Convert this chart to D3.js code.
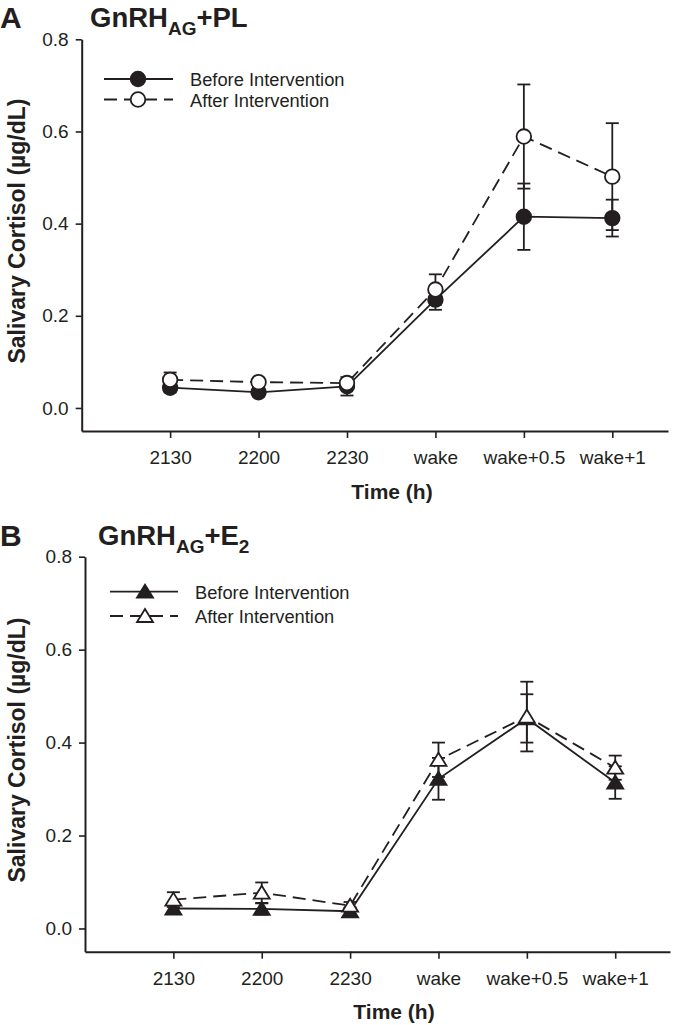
<!DOCTYPE html>
<html>
<head>
<meta charset="utf-8">
<script src="https://cdn.jsdelivr.net/npm/d3@7"></script>
<style>
  html, body { margin: 0; padding: 0; background: #fff; }
  svg { display: block; }
  text { font-family: "Liberation Sans", Arial, Helvetica, sans-serif; fill: #231f20; }
</style>
</head>
<body>
<svg id="chart" width="678" height="1025"></svg>
<script>
// ---- data ----
const categories = ["2130", "2200", "2230", "wake", "wake+0.5", "wake+1"];
const yTicks = [0.0, 0.2, 0.4, 0.6, 0.8];
const seriesLabels = ["Before Intervention", "After Intervention"];

// Panel A: GnRHAG + PL (circles)
const plBefore    = [0.044, 0.034, 0.047, 0.235, 0.415, 0.412];
const plBeforeErr = [0.010, 0.009, 0.020, 0.022, 0.072, 0.040];
const plAfter     = [0.061, 0.056, 0.054, 0.257, 0.589, 0.502];
const plAfterErr  = [0.016, 0.008, 0.008, 0.033, 0.113, 0.116];

// Panel B: GnRHAG + E2 (triangles)
const e2Before    = [0.043, 0.042, 0.037, 0.322, 0.452, 0.314];
const e2BeforeErr = [0.008, 0.012, 0.008, 0.045, 0.052, 0.035];
const e2After     = [0.062, 0.077, 0.049, 0.363, 0.456, 0.346];
const e2AfterErr  = [0.016, 0.022, 0.008, 0.037, 0.075, 0.026];

const INK = "#231f20";
const svg = d3.select("#chart");
svg.append("rect").attr("width", 678).attr("height", 1025).attr("fill", "#fff");

function markerPath(shape) {
  if (shape === "circle") return d3.symbol().type(d3.symbolCircle).size(Math.PI * 7.3 * 7.3)();
  // triangle: width 16, height 13, centred on bounding box
  return "M0,-7L8,6L-8,6Z";
}

function drawPanel(p) {
  const g = svg.append("g");
  const x = d3.scaleLinear().domain([-1, p.xEnd]).range([p.left, p.right]);
  const y = d3.scaleLinear().domain([-0.05, 0.8]).range([p.bottom, p.top]);

  // axes
  const yAxis = d3.axisLeft(y).tickValues(yTicks).tickFormat(d3.format(".1f"))
    .tickSize(6).tickSizeOuter(0).tickPadding(7);
  const xAxis = d3.axisBottom(x).tickValues(d3.range(categories.length))
    .tickFormat(i => categories[i]).tickSize(7).tickSizeOuter(0).tickPadding(13);

  const ya = g.append("g").attr("transform", `translate(${p.left},0)`).call(yAxis);
  const xa = g.append("g").attr("transform", `translate(0,${p.bottom})`).call(xAxis);
  [ya, xa].forEach(a => {
    a.select(".domain").attr("stroke", INK).attr("stroke-width", 2);
    a.selectAll(".tick line").attr("stroke", INK).attr("stroke-width", 1.6);
    a.selectAll(".tick text").attr("font-size", 19).attr("fill", INK)
      .style("font-family", '"Liberation Sans", Arial, sans-serif');
  });

  // axis titles
  g.append("text")
    .attr("transform", `translate(${p.yLabelX},${p.yLabelY}) rotate(-90)`)
    .attr("text-anchor", "middle").attr("font-size", 23).attr("font-weight", "bold")
    .text("Salivary Cortisol (µg/dL)");
  g.append("text").attr("x", p.xLabelX).attr("y", p.xLabelY)
    .attr("text-anchor", "middle").attr("font-size", 21).attr("font-weight", "bold")
    .text("Time (h)");

  // panel letter and title
  g.append("text").attr("x", 0).attr("y", p.titleY + 1).attr("font-size", 30)
    .attr("font-weight", "bold").text(p.letter);
  const t = g.append("text").attr("x", p.titleX).attr("y", p.titleY)
    .attr("font-size", 27.5).attr("font-weight", "bold");
  p.title.forEach(seg => {
    const ts = t.append("tspan").text(seg.t);
    if (seg.sub) ts.attr("font-size", 19).attr("dy", 8);
    else if (seg.back) ts.attr("dy", -8);
  });

  const series = [
    { v: p.before, e: p.beforeErr, fill: INK, dash: null },
    { v: p.after,  e: p.afterErr,  fill: "#fff", dash: "13,7" }
  ];

  const line = d3.line().x((d, i) => x(i)).y(d => y(d));

  // error bars
  series.forEach(s => {
    s.v.forEach((v, i) => {
      const cx = x(i);
      const eb = g.append("g").attr("stroke", INK).attr("stroke-width", 1.8);
      eb.append("line").attr("x1", cx).attr("x2", cx).attr("y1", y(v - s.e[i])).attr("y2", y(v + s.e[i]));
      [v - s.e[i], v + s.e[i]].forEach(yy => {
        eb.append("line").attr("x1", cx - 6.5).attr("x2", cx + 6.5).attr("y1", y(yy)).attr("y2", y(yy));
      });
    });
  });

  // lines
  series.forEach(s => {
    g.append("path").datum(s.v).attr("d", line).attr("fill", "none")
      .attr("stroke", INK).attr("stroke-width", 1.8)
      .attr("stroke-dasharray", s.dash);
  });

  // markers
  const mp = markerPath(p.shape);
  series.forEach(s => {
    g.selectAll(null).data(s.v).enter().append("path")
      .attr("d", mp).attr("transform", (d, i) => `translate(${x(i)},${y(d)})`)
      .attr("fill", s.fill).attr("stroke", INK).attr("stroke-width", 1.8);
  });

  // legend
  series.forEach((s, k) => {
    const ly = p.legY[k];
    g.append("line").attr("x1", p.legX1).attr("x2", p.legX2).attr("y1", ly).attr("y2", ly)
      .attr("stroke", INK).attr("stroke-width", 1.8).attr("stroke-dasharray", s.dash);
    g.append("path").attr("d", mp).attr("transform", `translate(${p.legSym},${ly})`)
      .attr("fill", s.fill).attr("stroke", INK).attr("stroke-width", 1.8);
    g.append("text").attr("x", p.legText).attr("y", ly + 7).attr("font-size", 18.3)
      .text(seriesLabels[k]);
  });
}

drawPanel({
  letter: "A",
  title: [{ t: "GnRH" }, { t: "AG", sub: true }, { t: "+PL", back: true }],
  titleX: 90, titleY: 27,
  left: 81.7, right: 668, xEnd: 5.63, top: 39.3, bottom: 431,
  yLabelX: 25, yLabelY: 231, xLabelX: 392, xLabelY: 499,
  shape: "circle",
  before: plBefore, beforeErr: plBeforeErr, after: plAfter, afterErr: plAfterErr,
  legY: [79, 99.5], legX1: 104, legX2: 173, legSym: 138, legText: 190
});

drawPanel({
  letter: "B",
  title: [{ t: "GnRH" }, { t: "AG", sub: true }, { t: "+E", back: true }, { t: "2", sub: true }],
  titleX: 98, titleY: 545,
  left: 85, right: 670, xEnd: 5.62, top: 556.7, bottom: 951.7,
  yLabelX: 25, yLabelY: 750, xLabelX: 394, xLabelY: 1019,
  shape: "triangle",
  before: e2Before, beforeErr: e2BeforeErr, after: e2After, afterErr: e2AfterErr,
  legY: [591.7, 616], legX1: 110, legX2: 178, legSym: 145, legText: 195
});
</script>
</body>
</html>
